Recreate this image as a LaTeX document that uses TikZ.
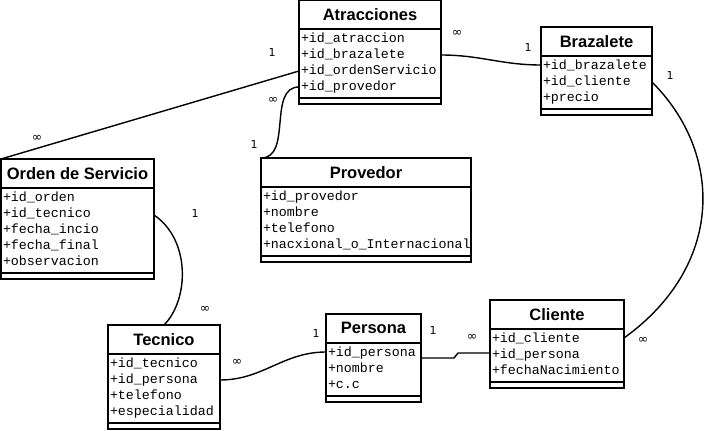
\documentclass[tikz,border=0pt]{standalone}
\usepackage{fontspec}
\usepackage{tikz}
\usetikzlibrary{positioning}

\newfontfamily\titlefam{Liberation Sans}
\newfontfamily\monofam{Liberation Mono}
\newfontfamily\cardfam{DejaVu Sans}
\newcommand\titlefont{\titlefam\bfseries\fontsize{16.5}{18}\selectfont}
\newcommand\attrfont{\monofam\fontsize{13.3}{16}\selectfont}
\newcommand\cardfont{\cardfam\fontsize{11}{12}\selectfont}
\newcommand\manyc{{\fontsize{12.5}{12}\selectfont ∞}}

\tikzset{
  classname/.style={draw, line width=2pt, anchor=north west, outer sep=0pt,
    inner sep=0pt, minimum height=28.5pt, font=\titlefont},
  classattr/.style={draw, line width=2pt, anchor=north west, outer sep=0pt,
    inner xsep=2pt, inner ysep=2.5pt, align=left, font=\attrfont,
    execute at begin node=\strut, execute at end node=\strut},
  classfoot/.style={draw, line width=2pt, anchor=north west, outer sep=0pt,
    inner sep=0pt, minimum height=6.5pt},
  card/.style={font=\cardfont, inner sep=0pt},
  assoc/.style={line width=1.4pt}
}

\begin{document}
\begin{tikzpicture}[x=1pt, y=-1pt]

\useasboundingbox (0,0) rectangle (705,431);

% classes
\node[classname, minimum width=142pt] (atrName) at (299,0) {Atracciones};
\node[classattr, text width=138pt] (atrAttr) at (atrName.south west)
  {+id\_atraccion\\+id\_brazalete\\+id\_ordenServicio\\+id\_provedor};
\node[classfoot, minimum width=142pt] (atrFoot) at (atrAttr.south west) {};

\node[classname, minimum width=111pt] (braName) at (541,27) {Brazalete};
\node[classattr, text width=107pt] (braAttr) at (braName.south west)
  {+id\_brazalete\\+id\_cliente\\+precio};
\node[classfoot, minimum width=111pt] (braFoot) at (braAttr.south west) {};

\node[classname, minimum width=153pt] (ordName) at (1,159) {Orden de Servicio};
\node[classattr, text width=149pt] (ordAttr) at (ordName.south west)
  {+id\_orden\\+id\_tecnico\\+fecha\_incio\\+fecha\_final\\+observacion};
\node[classfoot, minimum width=153pt] (ordFoot) at (ordAttr.south west) {};

\node[classname, minimum width=210pt] (provName) at (261,158) {Provedor};
\node[classattr, text width=206pt] (provAttr) at (provName.south west)
  {+id\_provedor\\+nombre\\+telefono\\+nacxional\_o\_Internacional};
\node[classfoot, minimum width=210pt] (provFoot) at (provAttr.south west) {};

\node[classname, minimum width=112pt] (tecName) at (108,325) {Tecnico};
\node[classattr, text width=108pt] (tecAttr) at (tecName.south west)
  {+id\_tecnico\\+id\_persona\\+telefono\\+especialidad};
\node[classfoot, minimum width=112pt] (tecFoot) at (tecAttr.south west) {};

\node[classname, minimum width=95pt] (perName) at (326,314) {Persona};
\node[classattr, text width=91pt] (perAttr) at (perName.south west)
  {+id\_persona\\+nombre\\+c.c};
\node[classfoot, minimum width=95pt] (perFoot) at (perAttr.south west) {};

\node[classname, minimum width=134pt] (cliName) at (490,300) {Cliente};
\node[classattr, text width=130pt] (cliAttr) at (cliName.south west)
  {+id\_cliente\\+id\_persona\\+fechaNacimiento};
\node[classfoot, minimum width=134pt] (cliFoot) at (cliAttr.south west) {};

% associations
\draw[assoc] ([yshift=-8pt]atrAttr.west) -- (ordName.north west);
\draw[assoc] ([yshift=-24pt]atrAttr.west) to[out=180, in=0] (provName.north west);
\draw[assoc] ([yshift=8pt]atrAttr.east) to[out=0, in=180] ([yshift=17pt]braAttr.west);
\draw[assoc] (braAttr.east) .. controls +(72,72) and +(100,-72) .. ([yshift=17pt]cliAttr.east);
\draw[assoc] ([yshift=15pt]ordAttr.east) .. controls +(37,25) and +(25,-25) .. (tecName.north);
\draw[assoc] ([yshift=8pt]tecAttr.east) to[out=0, in=180] ([yshift=17pt]perAttr.west);
\draw[assoc] ([yshift=11pt]perAttr.east) -- ++(33,0) -- ++(4,-5) -- ([yshift=2pt]cliAttr.west);

% multiplicities
\node[card] (cAtrOrd) at (272,52) {1};
\node[card] (cOrdAtr) at (37,138) {\manyc};
\node[card] (cAtrProv) at (273,100) {\manyc};
\node[card] (cProvAtr) at (254,144) {1};
\node[card] (cAtrBra) at (457,33) {\manyc};
\node[card] (cBraAtr) at (528,47) {1};
\node[card] (cBraCli) at (670,75) {1};
\node[card] (cCliBra) at (643,340) {\manyc};
\node[card] (cOrdTec) at (195,213) {1};
\node[card] (cTecOrd) at (205,309) {\manyc};
\node[card] (cTecPer) at (237,362) {\manyc};
\node[card] (cPerTec) at (316,333) {1};
\node[card] (cPerCli) at (433,330) {1};
\node[card] (cCliPer) at (472,337) {\manyc};

\end{tikzpicture}
\end{document}
